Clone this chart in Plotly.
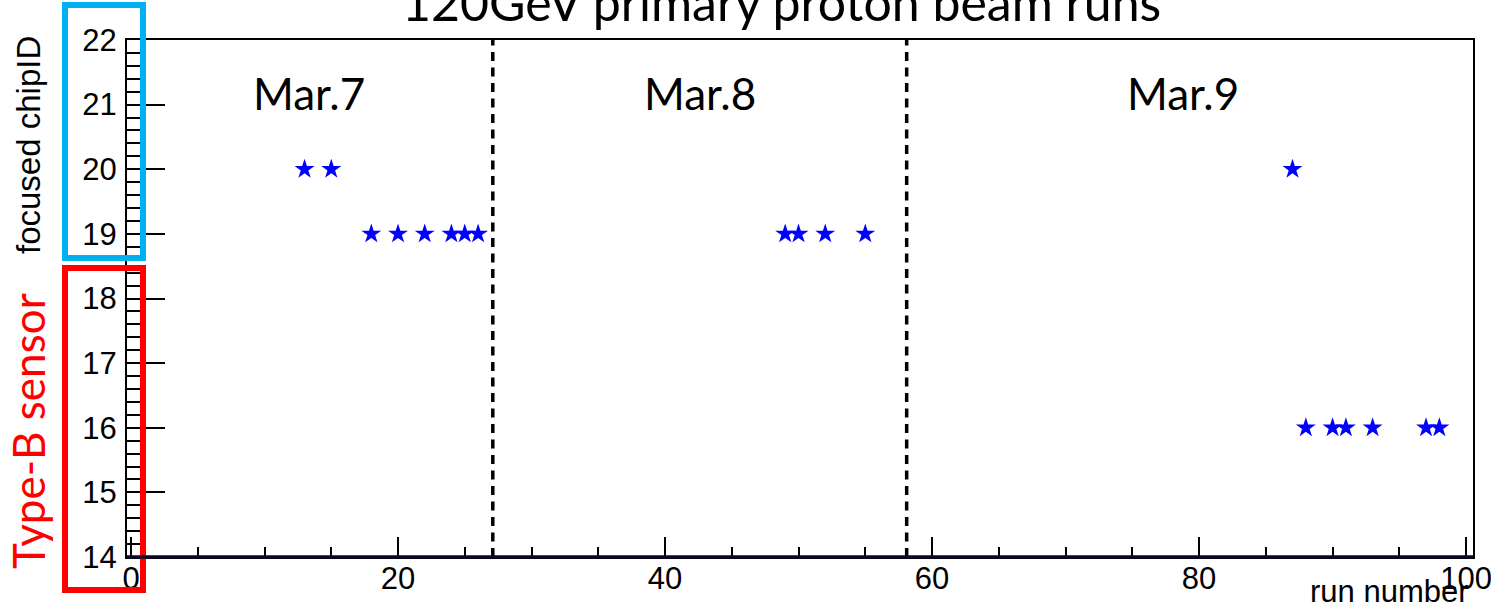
import plotly.graph_objects as go

# ---------------- data ----------------
run_mar7 = [13, 15, 18, 20, 22, 24, 25, 26]
chip_mar7 = [20, 20, 19, 19, 19, 19, 19, 19]
run_mar8 = [49, 50, 52, 55]
chip_mar8 = [19, 19, 19, 19]
run_mar9 = [87, 88, 90, 91, 93, 97, 98]
chip_mar9 = [20, 16, 16, 16, 16, 16, 16]

day_boundaries = [27.1, 58.1]
day_labels = ["Mar.7", "Mar.8", "Mar.9"]
day_label_x = [13.3, 42.6, 78.8]

title_text = "120GeV primary proton beam runs"
x_title = "run number"
y_title = "focused chipID"
sensor_label = "Type-B sensor"

x_range = [-0.3, 100.52]
y_range = [14, 22]

# ---------------- layout geometry ----------------
WIDTH, HEIGHT = 1491, 609
L, R, T, B = 127, 1473, 40, 557
PW, PH = R - L, B - T


def px(p):
    return (p - L) / PW


def py(p):
    return (B - p) / PH


runs = run_mar7 + run_mar8 + run_mar9
chips = chip_mar7 + chip_mar8 + chip_mar9

fig = go.Figure()
fig.add_trace(go.Scatter(
    x=runs, y=chips, mode="markers",
    marker=dict(symbol="star", size=15, color="#0000ff", line=dict(width=0)),
    showlegend=False, hoverinfo="skip",
))

# day boundaries (dashed)
for xb in day_boundaries:
    fig.add_trace(go.Scatter(
        x=[xb, xb], y=y_range, mode="lines",
        line=dict(color="black", width=3.5, dash="9px,6.5px"),
        showlegend=False, hoverinfo="skip",
    ))

# day labels
for lab, xl in zip(day_labels, day_label_x):
    fig.add_annotation(x=xl, y=21.18, xref="x", yref="y", text=lab,
                       showarrow=False, xanchor="center", yanchor="middle",
                       font=dict(family="Lato", size=44, color="black"))

# title (cut off at the top, as in the reference)
fig.add_annotation(x=px(781), y=py(2), xref="paper", yref="paper",
                   text=title_text, showarrow=False,
                   xanchor="center", yanchor="middle",
                   font=dict(family="Lato", size=50, color="black"))

# axis titles
fig.add_annotation(x=px(28), y=py(145), xref="paper", yref="paper",
                   text=y_title, showarrow=False, textangle=-90,
                   xanchor="center", yanchor="middle",
                   font=dict(family="Liberation Sans", size=33, color="black"))
fig.add_annotation(x=px(1471), y=py(591), xref="paper", yref="paper",
                   text=x_title, showarrow=False,
                   xanchor="right", yanchor="middle",
                   font=dict(family="Liberation Sans", size=31, color="black"))
fig.add_annotation(x=px(28), y=py(431), xref="paper", yref="paper",
                   text=sensor_label, showarrow=False, textangle=-90,
                   xanchor="center", yanchor="middle",
                   font=dict(family="Lato", size=44, color="#ff0000"))

# highlight boxes
fig.add_shape(type="rect", xref="paper", yref="paper",
              x0=px(65), x1=px(143), y0=py(258), y1=py(5),
              line=dict(color="#00b0f0", width=6), layer="above")
fig.add_shape(type="rect", xref="paper", yref="paper",
              x0=px(65), x1=px(143), y0=py(590), y1=py(268),
              line=dict(color="#ff0000", width=6), layer="above")

# thick bottom axis line
fig.add_shape(type="line", xref="paper", yref="paper",
              x0=0, x1=1, y0=0, y1=0,
              line=dict(color="#0a0a28", width=3.5), layer="above")

fig.update_layout(
    width=WIDTH, height=HEIGHT,
    margin=dict(l=L, r=WIDTH - R, t=T, b=HEIGHT - B, autoexpand=False),
    paper_bgcolor="white", plot_bgcolor="white",
    font=dict(family="Liberation Sans", color="black"),
    xaxis=dict(
        range=x_range, showgrid=False, zeroline=False,
        showline=True, linecolor="black", linewidth=2, mirror=True,
        tickmode="linear", tick0=0, dtick=20,
        ticks="inside", ticklen=20, tickwidth=2, tickcolor="black",
        minor=dict(ticks="inside", ticklen=10, tickwidth=2, dtick=5, tick0=0,
                   tickcolor="black", showgrid=False),
        tickfont=dict(family="Liberation Sans", size=31, color="black"),
        ticklabelstandoff=-7,
        ticklabeloverflow="allow",
    ),
    yaxis=dict(
        range=y_range, showgrid=False, zeroline=False,
        showline=True, linecolor="black", linewidth=2, mirror=True,
        tickmode="linear", tick0=14, dtick=1,
        ticks="inside", ticklen=38, tickwidth=2, tickcolor="black",
        minor=dict(ticks="inside", ticklen=19, tickwidth=2, dtick=0.2, tick0=14,
                   tickcolor="black", showgrid=False),
        tickfont=dict(family="Liberation Sans", size=31, color="black"),
        ticklabelstandoff=2,
    ),
)

fig.write_html("out.html")
